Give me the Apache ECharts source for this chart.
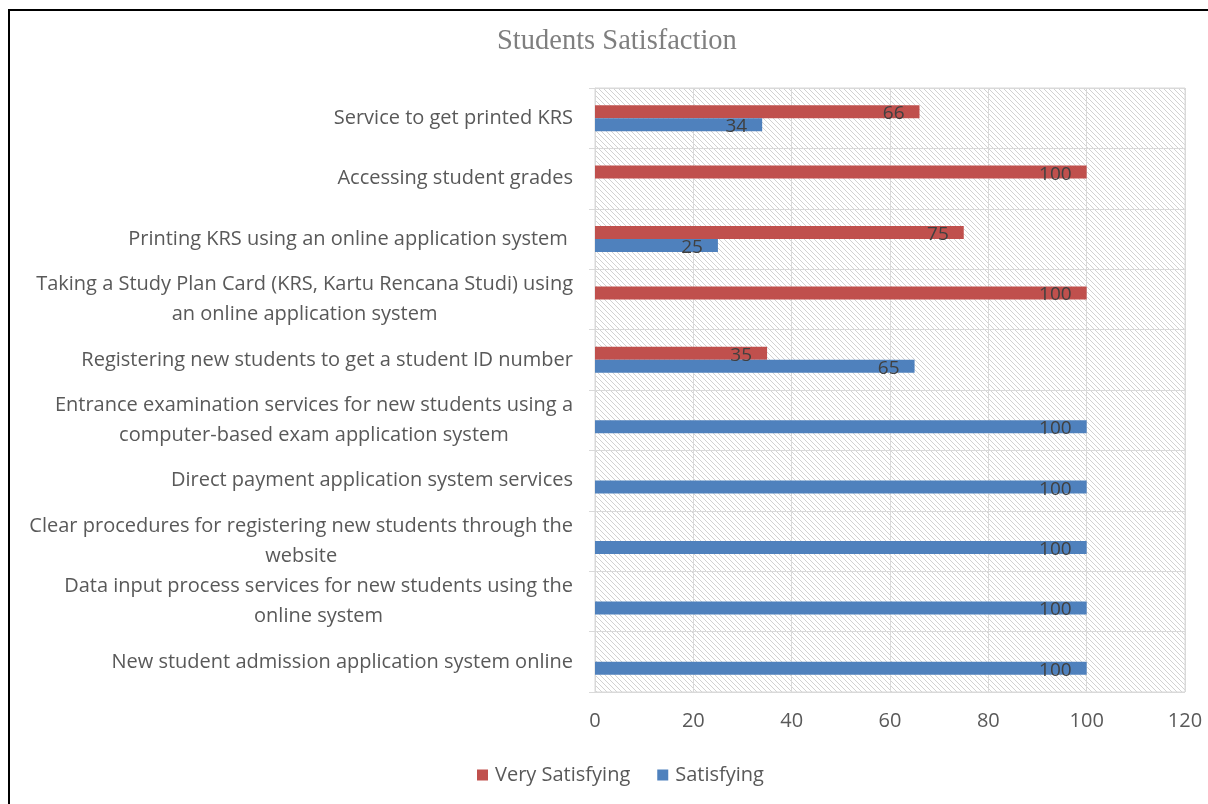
<!DOCTYPE html>
<html>
<head>
<meta charset="utf-8">
<script src="https://cdn.jsdelivr.net/npm/echarts@6/dist/echarts.min.js"></script>
<style>html,body{margin:0;padding:0;background:#fff;}#chart{width:1208px;height:804px;}</style>
</head>
<body>
<div id="chart"></div>
<script>
// Categories listed top to bottom as in the picture
const categories = [
  "Service to get printed KRS",
  "Accessing student grades",
  "Printing KRS using an online application system ",
  "Taking a Study Plan Card (KRS, Kartu Rencana Studi) using\nan online application system",
  "Registering new students to get a student ID number",
  "Entrance examination services for new students using a\ncomputer-based exam application system",
  "Direct payment application system services",
  "Clear procedures for registering new students through the\nwebsite",
  "Data input process services for new students using the\nonline system",
  "New student admission application system online"
];
const verySatisfying = [66, 100, 75, 100, 35, null, null, null, null, null];
const satisfying     = [34, null, 25, null, 65, 100, 100, 100, 100, 100];
const xTicks = [0, 20, 40, 60, 80, 100, 120];

// hatch pattern for plot background
const pat = document.createElement('canvas');
pat.width = 5; pat.height = 5;
const pctx = pat.getContext('2d');
const img = pctx.createImageData(5, 5);
for (let y = 0; y < 5; y++) for (let x = 0; x < 5; x++) {
  const i = (y * 5 + x) * 4;
  const on = ((x - y) % 5 + 5) % 5 === 0;
  const v = on ? 210 : 255;
  img.data[i] = v; img.data[i+1] = v; img.data[i+2] = v; img.data[i+3] = 255;
}
pctx.putImageData(img, 0, 0);

const chart = echarts.init(document.getElementById('chart'));
const labelFont = 'Open Sans';
const fs = 20;
chart.setOption({
  animation: false,
  backgroundColor: '#fff',
  title: {
    text: 'Students Satisfaction',
    left: 492, top: 22,
    textStyle: { fontFamily: 'Liberation Serif', fontSize: 28.5, fontWeight: 'normal', color: '#7f7f7f' }
  },
  legend: {
    data: ['Very Satisfying', 'Satisfying'],
    bottom: 14, left: 472,
    itemWidth: 11, itemHeight: 11, itemGap: 27,
    icon: 'rect',
    textStyle: { fontFamily: labelFont, fontSize: fs, color: '#595959', padding: [0, 0, 0, 2] }
  },
  grid: {
    left: 595, right: 23, top: 88, bottom: 112,
    show: true,
    backgroundColor: { image: pat, repeat: 'repeat' },
    borderColor: '#d9d9d9', borderWidth: 1
  },
  xAxis: {
    type: 'value', min: 0, max: 120, interval: 20,
    axisLine: { show: false }, axisTick: { show: false },
    splitLine: { show: true, lineStyle: { color: '#d9d9d9' } },
    axisLabel: { margin: 19, fontFamily: labelFont, fontSize: fs, color: '#595959',
      formatter: v => xTicks.includes(v) ? String(v) : '' }
  },
  yAxis: {
    type: 'category', data: categories, inverse: true,
    axisLine: { show: true, lineStyle: { color: '#d9d9d9' } },
    axisTick: { show: true, length: 6, lineStyle: { color: '#d9d9d9' } },
    splitLine: { show: true, lineStyle: { color: '#d9d9d9' } },
    axisLabel: {
      margin: 22, fontFamily: labelFont, fontSize: fs, color: '#595959', lineHeight: 30,
      formatter: v => v.split('\n').map(s => '{c|' + s + '}').join('\n'),
      rich: { c: { align: 'center', fontFamily: labelFont, fontSize: fs, color: '#595959', lineHeight: 30 } }
    }
  },
  series: [
    {
      name: 'Very Satisfying', type: 'bar', data: verySatisfying,
      barWidth: 13, barGap: '0%',
      itemStyle: { color: '#c0504d' },
      label: { show: true, position: 'insideRight', offset: [-10, 2], fontFamily: labelFont, fontSize: 19, color: '#404040' }
    },
    {
      name: 'Satisfying', type: 'bar', data: satisfying,
      barWidth: 13, barGap: '0%',
      itemStyle: { color: '#4f81bd' },
      label: { show: true, position: 'insideRight', offset: [-10, 2], fontFamily: labelFont, fontSize: 19, color: '#404040' }
    }
  ],
  graphic: [{
    type: 'rect', silent: true,
    shape: { x: 9, y: 10, width: 1400, height: 1000 },
    style: { fill: null, stroke: '#000', lineWidth: 2 }
  }]
});
</script>
</body>
</html>
